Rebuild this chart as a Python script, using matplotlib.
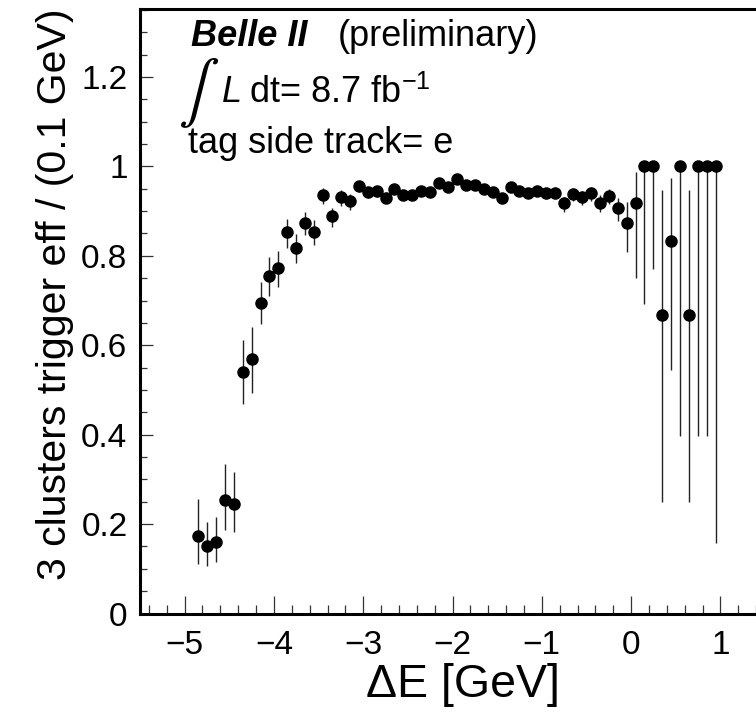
import matplotlib
matplotlib.use("Agg")
import matplotlib.pyplot as plt
from matplotlib.ticker import MultipleLocator, FixedLocator
import numpy as np

plt.rcParams['font.family'] = ['Liberation Sans', 'DejaVu Sans']
plt.rcParams['mathtext.fontset'] = 'stix'

# bin centres of Delta E [GeV]
delta_e = [-4.85, -4.75, -4.65, -4.55, -4.45, -4.35, -4.25, -4.15, -4.05, -3.95,
           -3.85, -3.75, -3.65, -3.55, -3.45, -3.35, -3.25, -3.15, -3.05, -2.95,
           -2.85, -2.75, -2.65, -2.55, -2.45, -2.35, -2.25, -2.15, -2.05, -1.95,
           -1.85, -1.75, -1.65, -1.55, -1.45, -1.35, -1.25, -1.15, -1.05, -0.95,
           -0.85, -0.75, -0.65, -0.55, -0.45, -0.35, -0.25, -0.15, -0.05, 0.05,
           0.15, 0.25, 0.35, 0.45, 0.55, 0.65, 0.75, 0.85, 0.95]

eff = [0.173, 0.151, 0.160, 0.254, 0.244, 0.541, 0.569, 0.695, 0.755, 0.772,
       0.853, 0.817, 0.873, 0.853, 0.936, 0.888, 0.931, 0.922, 0.956, 0.943,
       0.944, 0.930, 0.949, 0.935, 0.937, 0.944, 0.943, 0.962, 0.953, 0.971,
       0.959, 0.958, 0.949, 0.943, 0.930, 0.953, 0.944, 0.940, 0.946, 0.940,
       0.940, 0.918, 0.938, 0.931, 0.941, 0.919, 0.934, 0.906, 0.873, 0.919,
       1.000, 1.000, 0.667, 0.833, 1.000, 0.667, 1.000, 1.000, 1.000]

eff_low = [0.110, 0.106, 0.115, 0.186, 0.183, 0.468, 0.494, 0.648, 0.709, 0.730,
           0.818, 0.783, 0.846, 0.824, 0.915, 0.865, 0.912, 0.902, 0.943, 0.930,
           0.932, 0.917, 0.938, 0.924, 0.926, 0.934, 0.933, 0.953, 0.944, 0.963,
           0.950, 0.949, 0.940, 0.933, 0.919, 0.943, 0.933, 0.929, 0.934, 0.927,
           0.926, 0.899, 0.922, 0.913, 0.923, 0.897, 0.915, 0.878, 0.808, 0.751,
           0.692, 0.770, 0.250, 0.545, 0.397, 0.250, 0.397, 0.397, 0.157]

eff_high = [0.255, 0.205, 0.215, 0.334, 0.316, 0.612, 0.641, 0.741, 0.797, 0.811,
            0.883, 0.848, 0.898, 0.879, 0.951, 0.906, 0.947, 0.939, 0.966, 0.954,
            0.955, 0.942, 0.959, 0.945, 0.947, 0.953, 0.952, 0.970, 0.961, 0.978,
            0.967, 0.966, 0.958, 0.952, 0.940, 0.962, 0.954, 0.950, 0.957, 0.952,
            0.953, 0.931, 0.951, 0.946, 0.953, 0.935, 0.950, 0.930, 0.920, 0.988,
            1.000, 1.000, 0.947, 0.975, 1.000, 0.947, 1.000, 1.000, 1.000]

x_ticks = [-5, -4, -3, -2, -1, 0, 1]
y_ticks = [0, 0.2, 0.4, 0.6, 0.8, 1, 1.2]
y_ticklabels = ["0", "0.2", "0.4", "0.6", "0.8", "1", "1.2"]

W, H = 756, 726
fig = plt.figure(figsize=(W / 100, H / 100), dpi=100)
# frame: left 140 px, top 9 px, bottom 613.5 px, right beyond the image (x=1.5)
ax = fig.add_axes([140 / W, (H - 613.5) / H, 625 / W, (613.5 - 9) / H])

x = np.array(delta_e)
y = np.array(eff)
lo = y - np.array(eff_low)
hi = np.array(eff_high) - y
ax.errorbar(x, y, yerr=[lo, hi], fmt='o', color='black', ms=8,
            elinewidth=1.0, ecolor='#222222', capsize=0, zorder=3)

ax.set_xlim(-5.5, 1.5)
ax.set_ylim(0, 1.352)

ax.xaxis.set_major_locator(FixedLocator(x_ticks))
ax.xaxis.set_minor_locator(MultipleLocator(0.2))
ax.set_yticks(y_ticks)
ax.set_yticklabels(y_ticklabels)
ax.yaxis.set_minor_locator(MultipleLocator(0.05))

ax.tick_params(axis='both', which='both', direction='in', top=False, right=False,
               labelsize=24, width=0.9, color='#333333')
ax.tick_params(axis='x', which='major', length=13, pad=12)
ax.tick_params(axis='x', which='minor', length=6.5)
ax.tick_params(axis='y', which='major', length=9.5, pad=9)
ax.tick_params(axis='y', which='minor', length=5)

for s in ['left', 'bottom', 'top']:
    ax.spines[s].set_linewidth(2.2)
ax.spines['right'].set_visible(False)

ax.set_xlabel("ΔE [GeV]", fontsize=33.5)
ax.xaxis.set_label_coords((463 - 140) / 625, -(697 - 613.5) / 604.5)
ax.xaxis.label.set_va('baseline')
ax.set_ylabel("3 clusters trigger eff / (0.1 GeV)", fontsize=29.5, loc='top', labelpad=5)


def px(xp, yp):
    return ((xp - 140) / 625, (613.5 - yp) / 604.5)


ax.text(*px(191, 46), "Belle II", fontsize=26, fontweight='bold', fontstyle='italic',
        transform=ax.transAxes, ha='left', va='baseline')
ax.text(*px(338, 46), "(preliminary)", fontsize=26,
        transform=ax.transAxes, ha='left', va='baseline')
ax.text(*px(178, 93), r"$\int$", fontsize=44,
        transform=ax.transAxes, ha='left', va='center')
ax.text(*px(222, 102), "L", fontsize=26, fontstyle='italic',
        transform=ax.transAxes, ha='left', va='baseline')
ax.text(*px(249, 102), r"dt= 8.7 fb$^{\mathregular{-1}}$", fontsize=26,
        transform=ax.transAxes, ha='left', va='baseline')
ax.text(*px(188, 153), "tag side track= e", fontsize=26,
        transform=ax.transAxes, ha='left', va='baseline')

fig.savefig("out.png", dpi=100)
